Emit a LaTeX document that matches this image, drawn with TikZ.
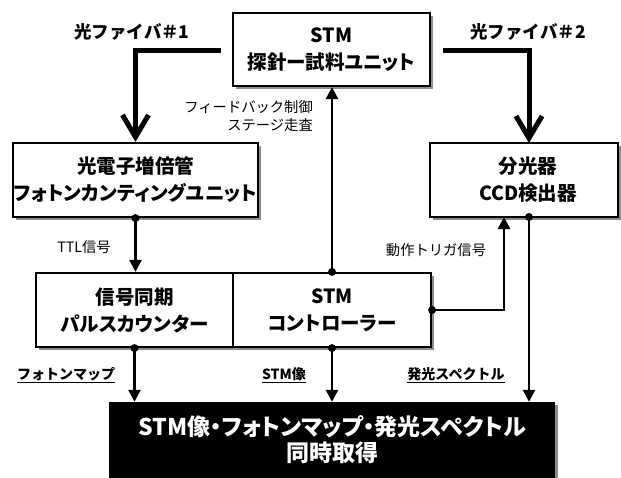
\documentclass[tikz,border=0pt]{standalone}
\usepackage{fontspec}
\setmainfont{Noto Sans CJK JP}[RawFeature=+palt]
\newfontfamily\jpm{Noto Sans CJK JP}
\usetikzlibrary{arrows.meta,shadows}
\tikzset{
  box/.style={draw, line width=2.2pt, fill=white, align=center, inner sep=0pt,
    font=\fontsize{19.5}{27}\selectfont\bfseries,
    drop shadow={shadow xshift=3pt, shadow yshift=-3pt, fill=black!45, opacity=1}},
  resbox/.style={fill=black, inner sep=0pt,
    drop shadow={shadow xshift=3pt, shadow yshift=-3pt, fill=black!45, opacity=1}},
  restext/.style={text=white, align=center, inner sep=0pt,
    font=\fontsize{23}{26}\selectfont\bfseries},
  conn/.style={line width=2.6pt, -{Triangle[length=12pt,width=12pt]}},
  fiber/.style={line width=5pt, -{Straight Barb[length=22pt,width=26pt]}},
  dotmark/.style={circle, fill=black, inner sep=0pt, minimum size=8pt},
  lbl/.style={font=\jpm\fontsize{14.3}{18}\selectfont, inner sep=0pt},
  flbl/.style={font=\jpm\fontsize{17.5}{20}\selectfont\bfseries, inner sep=0pt},
  ulbl/.style={font=\jpm\fontsize{14}{18}\selectfont\bfseries, inner sep=0pt}
}
\begin{document}
\begin{tikzpicture}[x=1pt,y=-1pt]
\useasboundingbox (0,0) rectangle (621,477);
% boxes
\node[box, minimum width=197pt, minimum height=73pt] (stm) at (331.5,49.5) {STM\\探針ー試料ユニット};
\node[box, minimum width=245pt, minimum height=74pt] (pmt) at (135.5,180) {光電子増倍管\\フォトンカンティングユニット};
\node[box, minimum width=188pt, minimum height=74pt] (spec) at (524,180) {\hspace*{8pt}分光器\\\hspace*{8pt}CCD検出器};
\node[box, minimum width=197pt, minimum height=74pt] (cnt) at (134.5,310) {信号同期\\パルスカウンター};
\node[box, minimum width=198pt, minimum height=74pt] (ctl) at (332,310) {STM\\コントローラー};
\node[resbox, minimum width=446pt, minimum height=84pt] (res) at (332,444) {};
\node[restext] (restxt) at (332,440) {STM像・フォトンマップ・発光スペクトル\\同時取得};
% coordinates
\coordinate (f1) at (221,50);
\coordinate (f2) at (443,50);
\coordinate (specin) at (529,143);
\coordinate (specout) at (529,217);
\coordinate (trigin) at (504,217);
% fibers
\draw[fiber] (f1) -| (pmt.north);
\draw[fiber] (f2) -| (specin);
% connectors
\node[dotmark] (d1) at (pmt.south) {};
\draw[conn] (d1.center) -- (cnt.north -| d1);
\node[dotmark] (d2) at (cnt.south) {};
\draw[conn] (d2.center) -- (res.north -| d2);
\node[dotmark] (d3) at (ctl.north) {};
\draw[conn] (d3.center) -- (stm.south -| d3);
\node[dotmark] (d4) at (ctl.south) {};
\draw[conn] (d4.center) -- (res.north -| d4);
\node[dotmark] (d5) at (ctl.east) {};
\draw[conn] (d5.center) -| (trigin);
\node[dotmark] (d6) at (specout) {};
\draw[conn] (d6.center) -- (res.north -| d6);
% labels
\node[flbl] (l1) at (132,32) {光ファイバ＃1};
\node[flbl] (l2) at (528,32) {光ファイバ＃2};
\node[lbl, align=right, anchor=east] (lfb) at (313,116) {フィードバック制御\\ステージ走査};
\node[lbl] (lttl) at (84,247) {TTL信号};
\node[lbl] (ltrig) at (436,250) {動作トリガ信号};
\node[ulbl] (lpm) at (66,375) {\underline{フォトンマップ}};
\node[ulbl] (lstm) at (284,375) {\underline{STM像}};
\node[ulbl] (lsp) at (456,375) {\underline{発光スペクトル}};
\end{tikzpicture}
\end{document}
